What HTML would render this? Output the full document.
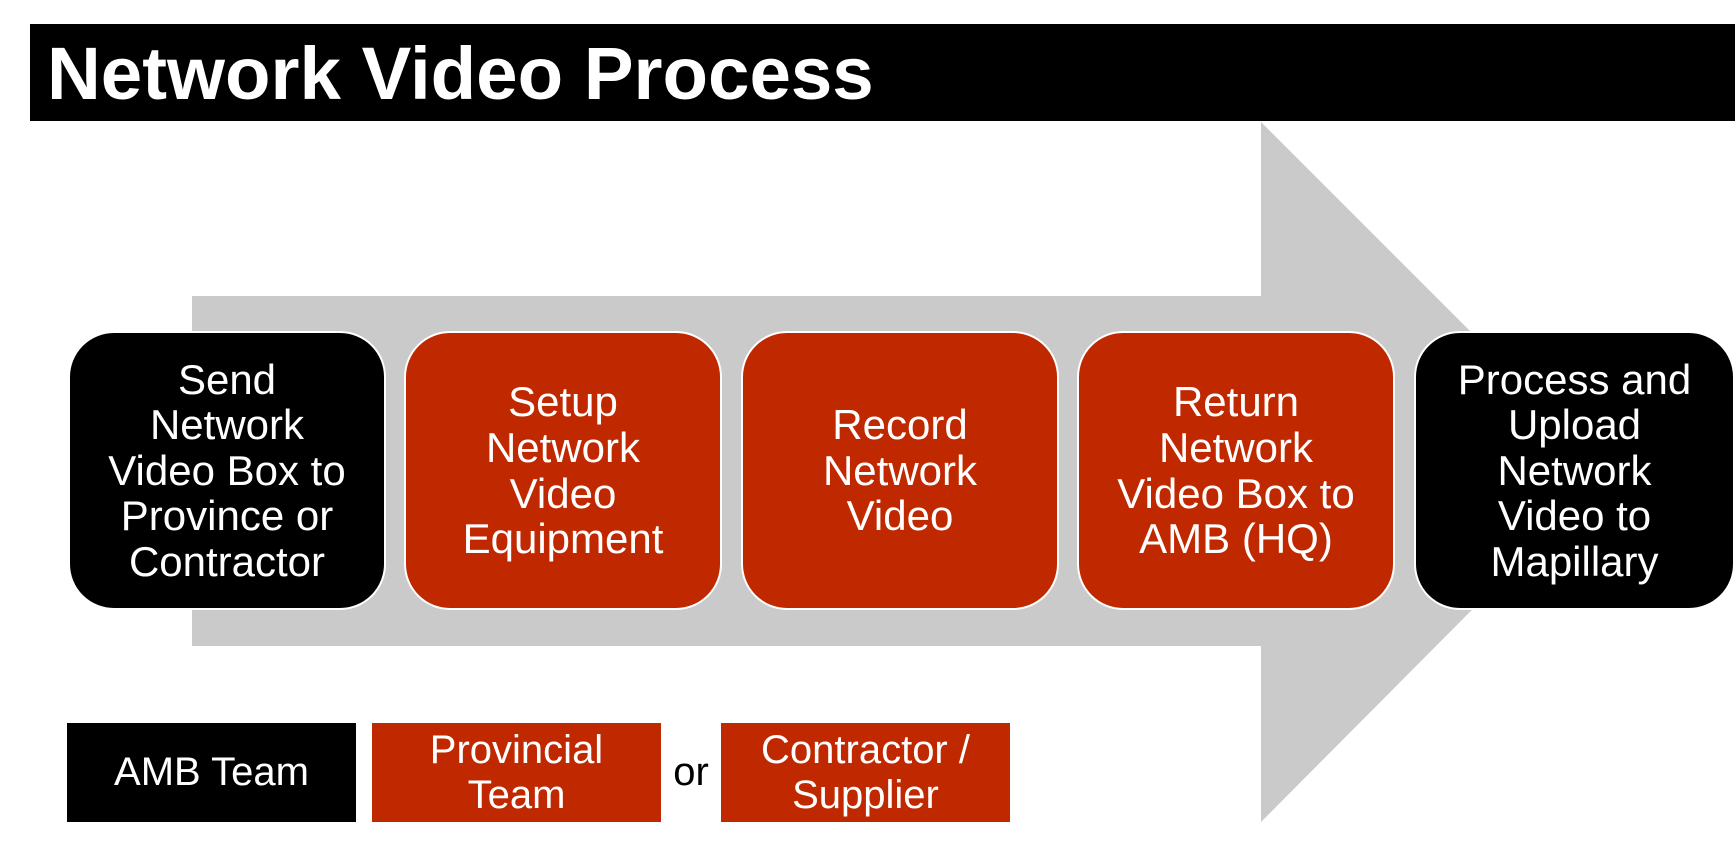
<!DOCTYPE html>
<html><head><meta charset="utf-8"><style>
html,body{margin:0;padding:0;background:#fff;}
body{width:1735px;height:844px;position:relative;overflow:hidden;font-family:"Liberation Sans",Arial,sans-serif;}
.title{position:absolute;left:30px;top:24px;width:1705px;height:97px;background:#000;}
.title span{position:absolute;left:17px;top:10px;color:#fff;font-weight:bold;font-size:74.5px;line-height:80px;white-space:nowrap;}
.box{position:absolute;top:331px;width:318px;height:279px;border-radius:46px;box-sizing:border-box;border:2px solid #fff;display:flex;align-items:center;justify-content:center;text-align:center;color:#fff;font-size:42px;line-height:45.6px;}
.k{background:#000;}
.r{background:#C02800;}
.leg{position:absolute;top:723px;height:99px;display:flex;align-items:center;justify-content:center;text-align:center;color:#fff;font-size:40px;line-height:45px;}
</style></head><body>
<svg width="1735" height="844" style="position:absolute;left:0;top:0">
<polygon points="192,296 1261,296 1261,122 1610,471 1261,822 1261,646 192,646" fill="#cacaca"/>
</svg>
<div class="title"><span>Network Video Process</span></div>
<div class="box k" style="left:68px">Send<br>Network<br>Video Box to<br>Province or<br>Contractor</div>
<div class="box r" style="left:404px">Setup<br>Network<br>Video<br>Equipment</div>
<div class="box r" style="left:741px">Record<br>Network<br>Video</div>
<div class="box r" style="left:1077px">Return<br>Network<br>Video Box to<br>AMB (HQ)</div>
<div class="box k" style="left:1414px;width:321px">Process and<br>Upload<br>Network<br>Video to<br>Mapillary</div>
<div class="leg" style="left:67px;width:289px;background:#000">AMB Team</div>
<div class="leg" style="left:372px;width:289px;background:#C02800">Provincial<br>Team</div>
<div style="position:absolute;left:661px;width:60px;top:723px;height:99px;display:flex;align-items:center;justify-content:center;font-size:40px;color:#000">or</div>
<div class="leg" style="left:721px;width:289px;background:#C02800">Contractor /<br>Supplier</div>
</body></html>
